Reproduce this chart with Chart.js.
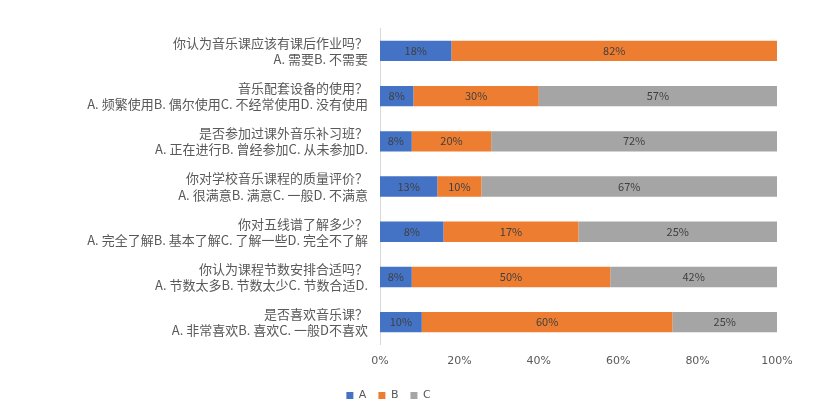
<!DOCTYPE html>
<html>
<head>
<meta charset="utf-8">
<script src="https://cdn.jsdelivr.net/npm/chart.js@4"></script>
<style>
  body { margin: 0; background: #fff; }
</style>
</head>
<body>
<canvas id="chart" width="824" height="415"></canvas>
<script>
const categories = [
    ['你认为音乐课应该有课后作业吗？', 'A. 需要B. 不需要'],
    ['音乐配套设备的使用？', 'A. 频繁使用B. 偶尔使用C. 不经常使用D. 没有使用'],
    ['是否参加过课外音乐补习班？', 'A. 正在进行B. 曾经参加C. 从未参加D.'],
    ['你对学校音乐课程的质量评价？', 'A. 很满意B. 满意C. 一般D. 不满意'],
    ['你对五线谱了解多少？', 'A. 完全了解B. 基本了解C. 了解一些D. 完全不了解'],
    ['你认为课程节数安排合适吗？', 'A. 节数太多B. 节数太少C. 节数合适D.'],
    ['是否喜欢音乐课？', 'A. 非常喜欢B. 喜欢C. 一般D不喜欢']
];
const seriesA = [18, 8, 8, 13, 8, 8, 10];
const seriesB = [82, 30, 20, 10, 17, 50, 60];
const seriesC = [0, 57, 72, 67, 25, 42, 25];

const raw = [seriesA, seriesB, seriesC];
// 100% stacked: each row scaled to its own total
const totals = categories.map((_, i) => seriesA[i] + seriesB[i] + seriesC[i]);
const share = arr => arr.map((v, i) => v / totals[i] * 100);

const barLabels = {
    id: 'barLabels',
    afterDatasetsDraw(chart) {
        const ctx = chart.ctx;
        ctx.save();
        ctx.font = '11px "Noto Sans CJK SC", sans-serif';
        ctx.fillStyle = '#404040';
        ctx.textAlign = 'center';
        ctx.textBaseline = 'middle';
        chart.data.datasets.forEach((ds, di) => {
            chart.getDatasetMeta(di).data.forEach((bar, i) => {
                const v = raw[di][i];
                if (!v) return;
                ctx.fillText(v + '%', (bar.x + bar.base) / 2, bar.y);
            });
        });
        ctx.restore();
    }
};

new Chart(document.getElementById('chart'), {
    type: 'bar',
    data: {
        labels: categories,
        datasets: [
            { label: 'A', data: share(seriesA), backgroundColor: '#4472C4' },
            { label: 'B', data: share(seriesB), backgroundColor: '#ED7D31' },
            { label: 'C', data: share(seriesC), backgroundColor: '#A5A5A5' }
        ]
    },
    options: {
        indexAxis: 'y',
        responsive: false,
        animation: false,
        layout: { padding: { top: 14, right: 47, bottom: 4, left: 0 } },
        datasets: { bar: { categoryPercentage: 0.45, barPercentage: 1, borderWidth: 0 } },
        scales: {
            x: {
                stacked: true, min: 0, max: 100,
                grid: { display: false, drawTicks: false },
                border: { display: false },
                ticks: { stepSize: 20, color: '#595959', padding: 10,
                         font: { size: 11, family: 'DejaVu Sans' },
                         callback: v => v + '%' }
            },
            y: {
                stacked: true,
                afterFit: s => { s.width = 380; },
                grid: { display: false, drawTicks: false },
                border: { color: '#d9d9d9' },
                ticks: { color: '#595959', padding: 12,
                         font: { size: 13, family: '"Noto Sans CJK SC", sans-serif', lineHeight: 1.25 } }
            }
        },
        plugins: {
            legend: {
                position: 'bottom',
                labels: { boxWidth: 7, boxHeight: 7, color: '#595959', padding: 12,
                          font: { size: 11, family: 'DejaVu Sans' } }
            },
            tooltip: { enabled: false }
        }
    },
    plugins: [barLabels]
});
</script>
</body>
</html>
